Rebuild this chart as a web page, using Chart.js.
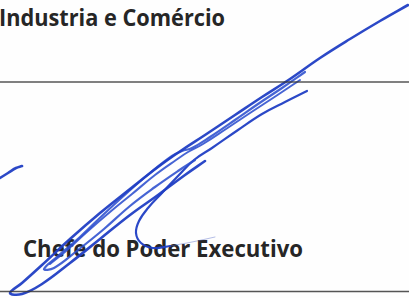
<!DOCTYPE html>
<html>
<head>
<meta charset="utf-8">
<script src="https://cdn.jsdelivr.net/npm/chart.js@4/dist/chart.umd.min.js"></script>
<style>
  html, body { margin: 0; padding: 0; background: #fff; }
  #page { position: relative; width: 409px; height: 298px; overflow: hidden; background: #fefefe; }
  .txt { position: absolute; left: 0; white-space: nowrap; font-family: "Open Sans", sans-serif;
         font-weight: 700; font-size: 24px; line-height: 24px; color: #262626; transform-origin: 0 0; }
  #sig { position: absolute; left: 0; top: 0; }
</style>
</head>
<body>
<div id="page">
  <div class="txt" id="t1">Industria e Comércio</div>
  <div class="txt" id="t2">Chefe do Poder Executivo</div>
  <canvas id="sig" width="409" height="298"></canvas>
</div>
<script>
// captions on the page
const captions = ["Industria e Comércio", "Chefe do Poder Executivo"];

// printed rules
const ruleTop = [[0, 82], [409, 82]];
const ruleBottom = [[0, 291.5], [409, 291.5]];

// signature strokes (x, y from top-left)
const strokeOuter = [[408, 5], [380, 21], [350, 39], [320, 58], [290, 79], [262, 97], [235, 115], [205, 135],
  [182, 150], [158, 167], [130, 189], [100, 213], [70, 239], [42, 265], [22, 283], [10, 293], [22, 294],
  [42, 284], [70, 263], [100, 239], [130, 215], [158, 195], [185, 175], [205, 161]];
const strokeInner = [[305, 72], [282, 88], [258, 104], [235, 120], [210, 137], [192, 148], [182, 151], [172, 156],
  [150, 173], [128, 192], [104, 214], [80, 237], [58, 256], [44, 269], [54, 268], [78, 250], [104, 229],
  [130, 206], [155, 187], [178, 171], [195, 160]];
const strokeMid = [[300, 80], [276, 96], [250, 113], [226, 129], [203, 144], [188, 152], [176, 160], [155, 175],
  [132, 194], [110, 212], [88, 231], [66, 251], [50, 264]];
const strokeTip = [[307, 91], [285, 102], [262, 114], [238, 130], [212, 148], [194, 160], [178, 176], [162, 193],
  [148, 208], [139, 221], [136, 233], [141, 243], [153, 248], [170, 246]];
const strokeTail = [[170, 246], [192, 242], [215, 237]];
const strokeSmall = [[0, 178], [8, 173], [16, 168], [22, 166]];

const toPts = arr => arr.map(p => ({ x: p[0], y: p[1] }));

function stroke(arr, width, color) {
  return {
    data: toPts(arr),
    showLine: true,
    borderColor: color,
    borderWidth: width,
    borderCapStyle: "round",
    borderJoinStyle: "round",
    pointRadius: 0,
    tension: 0.4,
    fill: false
  };
}

function rule(arr) {
  return {
    data: toPts(arr),
    showLine: true,
    borderColor: "rgba(55,55,55,0.85)",
    borderWidth: 1.4,
    pointRadius: 0,
    tension: 0
  };
}

const blue = "rgba(32,62,196,0.95)";
const blueLight = "rgba(44,78,206,0.88)";

new Chart(document.getElementById("sig").getContext("2d"), {
  type: "scatter",
  data: {
    datasets: [
      rule(ruleTop),
      rule(ruleBottom),
      stroke(strokeOuter, 2.6, blue),
      stroke(strokeInner, 2.2, blueLight),
      stroke(strokeMid, 2, blueLight),
      stroke(strokeTip, 2.2, blue),
      stroke(strokeTail, 0.9, "rgba(90,110,200,0.5)"),
      stroke(strokeSmall, 2.6, blue)
    ]
  },
  options: {
    responsive: false,
    animation: false,
    devicePixelRatio: 1,
    layout: { padding: 0 },
    plugins: { legend: { display: false }, tooltip: { enabled: false } },
    scales: {
      x: { type: "linear", min: 0, max: 409, display: false },
      y: { type: "linear", min: 0, max: 298, reverse: true, display: false }
    }
  }
});

// place captions: left edge, right edge, baseline
function place(id, text, left, right, baseline) {
  const el = document.getElementById(id);
  el.textContent = text;
  const w = el.getBoundingClientRect().width;
  const sx = (right - left) / w;
  // Open Sans: ascent 1.069em, descent 0.293em, line-height = font size
  const fs = 24;
  const base = (fs - 1.362 * fs) / 2 + 1.069 * fs;
  el.style.left = left + "px";
  el.style.top = (baseline - base) + "px";
  el.style.transform = "scaleX(" + sx + ")";
}
place("t1", captions[0], -1, 225, 26.5);
place("t2", captions[1], 23, 303, 257);
</script>
</body>
</html>
